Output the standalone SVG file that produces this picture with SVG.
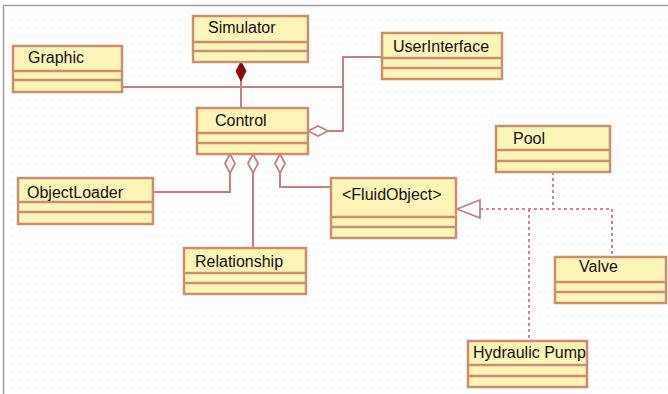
<svg xmlns="http://www.w3.org/2000/svg" width="668" height="394" viewBox="0 0 668 394">
<defs>
<style>
.box{fill:#fdf5b8;stroke:#c98f72;stroke-width:2.5}
.sep{stroke:#c98f72;stroke-width:2.5;fill:none}
.lbl{font-family:"Liberation Sans",Arial,sans-serif;font-size:16px;fill:#111}
.ln{stroke:#c47f80;stroke-width:2;fill:none}
.dot{stroke:#c98a8e;stroke-width:2;fill:none;stroke-dasharray:3 3}
.hd{fill:#fff;stroke:#c47f80;stroke-width:1.8}
</style>
<pattern id="grid" width="8" height="8" patternUnits="userSpaceOnUse">
<circle cx="4" cy="4" r="0.8" fill="#ece6e6"/>
</pattern>
</defs>
<rect x="0" y="0" width="668" height="394" fill="#fff"/>
<rect x="4" y="12" width="664" height="382" fill="url(#grid)"/>
<path d="M3.5 394 V5.5 H668" fill="none" stroke="#a0a0a0" stroke-width="1.5"/>

<g id="connectors">
<line class="ln" x1="241" y1="62" x2="241" y2="108"/>
<path d="M241 62 L246 71 L241 81 L236 71 Z" fill="#8e0a0a" stroke="#8e0a0a" stroke-width="1"/>
<line class="ln" x1="122" y1="87" x2="343" y2="87"/>
<path class="ln" d="M382 57 H343 V131 H328"/>
<path class="hd" d="M308 131 L318 126 L328 131 L318 136 Z"/>
<path class="ln" d="M230 173 V192 H153"/>
<path class="hd" d="M230 154 L235 163.5 L230 173 L225 163.5 Z"/>
<path class="ln" d="M253 173 V248"/>
<path class="hd" d="M253 154 L258 163.5 L253 173 L248 163.5 Z"/>
<path class="ln" d="M280 173 V187 H331"/>
<path class="hd" d="M280 154 L285 163.5 L280 173 L275 163.5 Z"/>
<path class="dot" d="M480 209 H612 V257"/>
<path class="dot" d="M553 172 V209"/>
<path class="dot" d="M529 209 V341"/>
<path class="hd" d="M457 209 L480 200 L480 218 Z"/>
</g>

<g id="Simulator">
<rect class="box" x="193" y="16" width="115" height="46"/>
<path class="sep" d="M193 42 H308 M193 51 H308"/>
<text class="lbl" x="208" y="33">Simulator</text>
</g>
<g id="Graphic">
<rect class="box" x="13" y="46" width="109" height="46"/>
<path class="sep" d="M13 71 H122 M13 80 H122"/>
<text class="lbl" x="28" y="63">Graphic</text>
</g>
<g id="Control">
<rect class="box" x="197" y="108" width="111" height="46"/>
<path class="sep" d="M197 133 H308 M197 143 H308"/>
<text class="lbl" x="215" y="126">Control</text>
</g>
<g id="UserInterface">
<rect class="box" x="382" y="33" width="120" height="46"/>
<path class="sep" d="M382 58 H502 M382 68 H502"/>
<text class="lbl" x="393" y="52">UserInterface</text>
</g>
<g id="Pool">
<rect class="box" x="496" y="126" width="114" height="46"/>
<path class="sep" d="M496 150 H610 M496 161 H610"/>
<text class="lbl" x="513" y="144">Pool</text>
</g>
<g id="ObjectLoader">
<rect class="box" x="18" y="178" width="135" height="46"/>
<path class="sep" d="M18 202 H153 M18 212 H153"/>
<text class="lbl" x="27" y="198">ObjectLoader</text>
</g>
<g id="Relationship">
<rect class="box" x="184" y="248" width="122" height="46"/>
<path class="sep" d="M184 273 H306 M184 283 H306"/>
<text class="lbl" x="195" y="267">Relationship</text>
</g>
<g id="FluidObject">
<rect class="box" x="331" y="178" width="125" height="60"/>
<path class="sep" d="M331 217 H456 M331 227 H456"/>
<text class="lbl" x="342" y="200">&lt;FluidObject&gt;</text>
</g>
<g id="Valve">
<rect class="box" x="555" y="257" width="111" height="46"/>
<path class="sep" d="M555 282 H666 M555 292 H666"/>
<text class="lbl" x="579" y="272">Valve</text>
</g>
<g id="HydraulicPump">
<rect class="box" x="468" y="341" width="119" height="46"/>
<path class="sep" d="M468 365 H587 M468 376 H587"/>
<text class="lbl" x="473" y="358">Hydraulic Pump</text>
</g>
</svg>
